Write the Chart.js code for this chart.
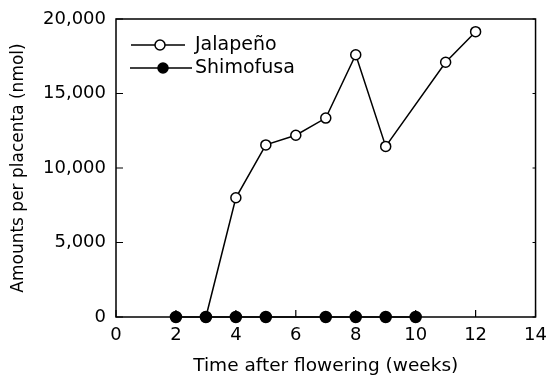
<!DOCTYPE html>
<html><head><meta charset="utf-8">
<script src="https://cdn.jsdelivr.net/npm/chart.js@4/dist/chart.umd.min.js"></script>
<style>html,body{margin:0;padding:0;background:#fff}#wrap{width:556px;height:375px}</style>
</head><body><div id="wrap"><canvas id="c" width="556" height="375"></canvas></div>
<script>
const jalWeeks = [3, 4, 5, 6, 7, 8, 9, 11, 12];
const jalValues = [0, 8000, 11550, 12200, 13350, 17600, 11450, 17100, 19150];
const shiWeeks = [2, 3, 4, 5, 7, 8, 9, 10];
const shiValues = [0, 0, 0, 0, 0, 0, 0, 0];
const xTicks = [0, 2, 4, 6, 8, 10, 12, 14];
const yTicks = [0, 5000, 10000, 15000, 20000];
const seriesNames = ['Jalapeño', 'Shimofusa'];
const xTitle = 'Time after flowering (weeks)';
const yTitle = 'Amounts per placenta (nmol)';

const FONT = 'DejaVu Sans';
const toXY = (xs, ys) => xs.map((x, i) => ({x: x, y: ys[i]}));

const framePlugin = {
  id: 'frame',
  afterDatasetsDraw(chart) {
    const {ctx, chartArea: a, scales} = chart;
    ctx.save();
    ctx.strokeStyle = '#000';
    ctx.lineWidth = 1.5;
    ctx.strokeRect(a.left, a.top, a.right - a.left, a.bottom - a.top);
    ctx.lineWidth = 1.2;
    ctx.beginPath();
    yTicks.forEach(v => {
      const y = scales.y.getPixelForValue(v);
      ctx.moveTo(a.left, y); ctx.lineTo(a.left + 7, y);
      ctx.moveTo(a.right, y); ctx.lineTo(a.right - 3, y);
    });
    xTicks.forEach(v => {
      const x = scales.x.getPixelForValue(v);
      ctx.moveTo(x, a.bottom); ctx.lineTo(x, a.bottom - 7);
    });
    ctx.stroke();
    // legend
    const items = [
      {name: seriesNames[0], y: a.top + 26, fill: '#fff', x1: a.left + 15, x2: a.left + 69, cx: a.left + 44},
      {name: seriesNames[1], y: a.top + 49, fill: '#000', x1: a.left + 14, x2: a.left + 76, cx: a.left + 47}
    ];
    items.forEach(it => {
      ctx.lineWidth = 1.5;
      ctx.strokeStyle = '#000';
      ctx.beginPath(); ctx.moveTo(it.x1, it.y); ctx.lineTo(it.x2, it.y); ctx.stroke();
      ctx.beginPath(); ctx.arc(it.cx, it.y, 5, 0, Math.PI * 2);
      ctx.fillStyle = it.fill; ctx.fill(); ctx.stroke();
      ctx.fillStyle = '#000';
      ctx.font = '19px "' + FONT + '"';
      ctx.textBaseline = 'middle';
      ctx.fillText(it.name, a.left + 79, it.y);
    });
    ctx.restore();
  }
};

new Chart(document.getElementById('c'), {
  type: 'line',
  data: {
    datasets: [
      {label: seriesNames[1], data: toXY(shiWeeks, shiValues), borderColor: '#000', backgroundColor: '#000',
       pointBackgroundColor: '#000', pointBorderColor: '#000', pointRadius: 5.5, borderWidth: 1.5, order: 0, clip: false},
      {label: seriesNames[0], data: toXY(jalWeeks, jalValues), borderColor: '#000', backgroundColor: '#fff',
       pointBackgroundColor: '#fff', pointBorderColor: '#000', pointRadius: 5, pointBorderWidth: 1.5, borderWidth: 1.5, order: 1, clip: false}
    ]
  },
  options: {
    responsive: false, animation: false, devicePixelRatio: 1,
    layout: {padding: {left: 0, right: 15, top: 16, bottom: 0}},
    plugins: {legend: {display: false}, tooltip: {enabled: false}},
    scales: {
      x: {
        type: 'linear', min: 0, max: 14,
        afterBuildTicks: s => { s.ticks = xTicks.map(v => ({value: v})); },
        grid: {display: false, drawTicks: false}, border: {display: false},
        ticks: {color: '#000', font: {family: FONT, size: 18, lineHeight: 1}, padding: 9},
        title: {display: true, text: xTitle, color: '#000', font: {family: FONT, size: 18.5, lineHeight: 1}, padding: {top: 4, bottom: 0}},
        afterFit: s => { s.height = 58; }
      },
      y: {
        min: 0, max: 20000,
        afterBuildTicks: s => { s.ticks = yTicks.map(v => ({value: v})); },
        grid: {display: false, drawTicks: false}, border: {display: false},
        ticks: {color: '#000', font: {family: FONT, size: 18, lineHeight: 1}, padding: 10,
          callback: v => v.toLocaleString('en-US')},
        title: {display: true, text: yTitle, color: '#000', font: {family: FONT, size: 17, lineHeight: 1}, padding: {top: 10, bottom: 0}},
        afterFit: s => { s.width = 116; }
      }
    }
  },
  plugins: [framePlugin]
});
</script>
</body></html>
